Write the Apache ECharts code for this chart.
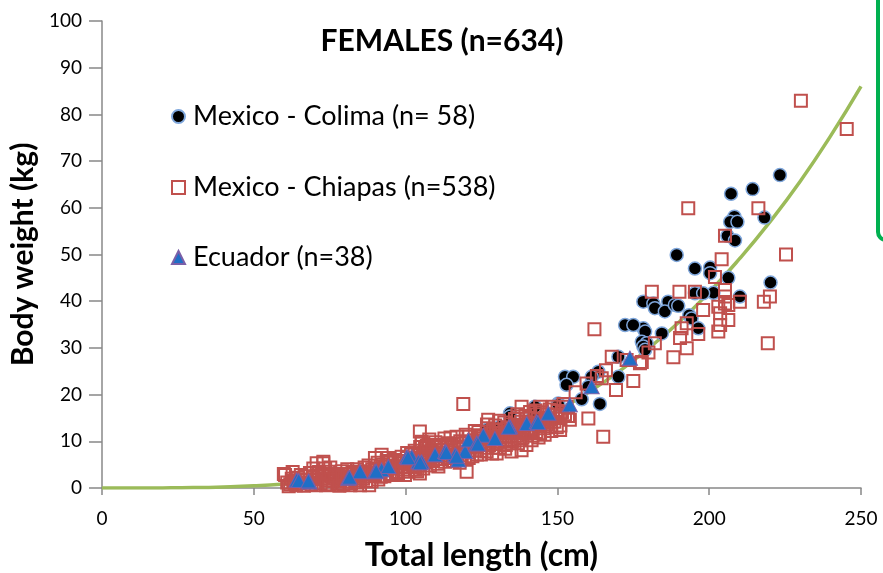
<!DOCTYPE html>
<html>
<head>
<meta charset="utf-8">
<script src="https://cdn.jsdelivr.net/npm/echarts@6/dist/echarts.min.js"></script>
<style>
  html, body { margin: 0; padding: 0; background: #fff; }
  #chart { width: 883px; height: 573px; }
</style>
</head>
<body>
<div id="chart"></div>
<script>
// Total length (cm) vs body weight (kg), females by locality
const colima = [
  [223.3,67.0],[214.3,64.0],[207.2,63.0],[208.3,58.1],[206.9,57.0],[209.3,57.0],[218.2,57.9],
  [206.0,54.0],[208.5,53.0],[189.3,49.9],[195.3,47.0],[200.3,47.2],[200.3,46.0],[206.3,45.0],
  [220.2,44.0],[210.1,41.0],[201.4,41.8],[195.3,41.7],[198.0,41.7],[178.3,39.9],[181.6,39.5],
  [186.5,39.9],[182.1,38.5],[185.4,37.8],[188.7,39.2],[189.8,39.0],[193.4,37.0],[194.2,36.3],
  [196.4,34.2],[178.3,34.2],[178.9,33.5],[177.8,31.3],[179.4,31.0],[184.4,33.1],[172.3,34.9],
  [175.0,34.9],[178.3,30.3],[178.9,29.6],[170.1,28.1],[152.5,23.8],[155.2,23.8],[153.0,22.1],
  [163.5,24.9],[161.3,23.8],[160.2,21.7],[170.1,23.8],[158.0,19.0],[164.0,18.0],[150.3,18.1],
  [142.6,17.1],[142.1,15.6],[134.4,16.0],[127.8,12.4],[131.1,13.1],[142.6,17.4],[134.4,15.3],
  [150.3,17.8],[126.7,12.4]
];

const chiapas = [
  [230.2,82.9],[245.3,76.9],[193.1,59.9],[216.2,59.9],[205.2,54.0],[204.1,49.0],[225.3,50.0],
  [201.9,45.2],[181.1,42.0],[190.2,42.0],[195.3,42.0],[205.2,42.4],[205.2,41.0],[205.2,39.5],
  [210.1,39.9],[218.0,39.9],[220.0,41.0],[198.0,38.1],[203.0,38.8],[206.3,39.2],[203.6,37.4],
  [206.3,36.0],[203.6,34.9],[203.0,33.5],[192.6,35.3],[190.9,34.2],[196.4,33.0],[190.4,32.1],
  [192.6,29.9],[188.2,28.0],[182.1,31.0],[180.0,29.0],[177.8,27.0],[219.3,31.0],[162.2,34.0],
  [119.0,18.0],[160.2,14.9],[165.1,11.0],[175.0,22.9],[169.3,21.0],[172.8,27.4],[177.2,26.7],
  [167.9,28.1],[164.6,23.5],[159.6,22.4],[153.0,17.4],[154.1,14.6],[150.9,15.3],[138.2,17.4],
  [144.3,17.4],[147.0,14.6],[150.9,12.4],[136.0,13.1],[139.9,12.1],[144.3,11.7],[127.2,14.6],
  [130.0,12.4],[124.5,11.3],[131.1,11.0],[104.7,12.1],[105.3,9.6],[107.5,9.2],[113.5,8.8],
  [138.2,8.1],[134.9,7.8],[120.1,3.5],[105.3,9.9],[106.4,8.5],[108.6,8.1],[100.4,6.4],
  [103.1,3.9],[104.7,3.1],[114.1,9.6],[115.2,9.2],[117.4,8.8],[123.4,8.1],[126.7,7.8],
  [130.0,7.4],[131.1,9.9],[133.3,10.3],[137.1,15.3],[137.1,13.5],[141.0,16.3],
  [60.3,2.8],[59.9,3.0],[61.0,1.2],[62.0,0.8],[62.5,2.0],[63.0,1.5],[64.0,0.6],[64.5,2.2],
  [65.0,1.0],[66.0,1.8],[66.5,0.5],[67.0,2.5],[68.0,1.2],[68.5,3.2],[69.0,0.8],[69.6,4.2],
  [70.0,1.8],[70.7,5.3],[71.0,2.4],[72.0,1.0],[72.9,5.6],[72.9,5.3],[73.5,4.2],[73.0,2.8],
  [74.0,1.6],[74.5,3.5],[75.0,0.8],[75.5,2.4],[76.0,1.4],[76.5,3.0],[77.0,2.0],[77.5,1.0],
  [78.0,2.8],[78.5,1.6],[79.0,3.6],[79.5,0.8],[80.0,2.2],[80.5,1.4],[81.0,3.0],[81.5,2.0],
  [82.0,1.0],[82.5,3.5],[83.0,2.4],[83.5,1.6],[84.0,4.0],[84.5,2.8],[85.0,0.6],[85.5,3.4],
  [86.0,2.0],[86.5,4.4],[87.0,1.5],[87.5,3.0],[88.0,0.6],[88.5,2.5],[89.0,4.0],[89.9,6.4],
  [90.5,4.2],[90.0,2.8],[91.0,1.8],[91.5,3.5],[92.1,7.1],[92.5,5.0],[93.2,4.6],[93.0,2.5],
  [94.3,6.4],[94.0,3.8],[95.0,5.4],[95.5,2.8],[96.0,4.2],[96.5,6.0],[97.0,4.6],[97.5,3.2],
  [98.2,5.3],[98.7,6.7],[99.2,3.9],[99.5,5.6],[100.0,4.5],[100.5,7.5],[101.0,3.5],[101.5,5.5],
  [102.0,6.5],[102.5,4.5],[103.0,8.0],[103.5,5.8],[104.0,7.0],[104.5,4.8],[105.0,6.2],[106.0,7.5],
  [106.5,5.5],[107.0,9.0],[107.5,6.5],[108.0,4.8],[108.5,7.8],[109.0,5.8],[109.5,8.8],[110.0,6.8],
  [110.5,5.2],[111.0,7.5],[111.5,9.2],[112.0,6.2],[112.5,8.2],[113.0,5.6],[113.5,7.0],[114.0,9.0],
  [114.5,6.4],[115.0,8.0],[115.5,5.8],[116.0,9.5],[116.5,7.2],[117.0,6.0],[117.5,8.4],[118.0,10.0],
  [118.5,7.0],[119.0,8.8],[119.5,6.2],[120.0,9.8],[120.5,7.6],[121.0,11.0],[121.5,8.6],[122.0,6.8],
  [122.5,10.2],[123.0,9.0],[123.5,7.2],[124.0,12.0],[124.5,9.6],[125.0,8.0],[125.5,11.0],[126.0,10.0],
  [126.5,8.6],[127.0,12.8],[127.5,9.2],[128.0,11.6],[128.5,7.4],[129.0,10.6],[129.5,13.4],[130.0,9.4],
  [130.5,11.8],[131.0,8.6],[131.5,12.6],[132.0,10.4],[132.5,14.0],[133.0,9.2],[133.5,12.0],[134.0,11.0],
  [134.5,13.6],[135.0,10.0],[135.5,12.4],[136.0,14.8],[136.5,11.2],[137.0,9.6],[137.5,12.8],[138.0,14.2],
  [138.5,10.8],[139.0,13.0],[139.5,15.4],[140.0,11.6],[140.5,14.0],[141.0,12.4],[141.5,10.2],[142.0,13.6],
  [142.5,15.8],[143.0,12.0],[143.5,14.6],[144.0,13.2],[145.0,16.2],[145.5,12.8],[146.0,15.0],[146.5,13.6],
  [147.5,16.8],[148.0,12.2],[148.5,15.6],[149.0,14.2],[150.0,16.5],[151.0,13.4],[152.0,18.0],[152.5,15.8],
  [156.0,20.5],[163.0,24.0],[166.0,25.2],
  [61.5,0.4],[62.8,3.4],[63.5,0.9],[65.5,2.8],[67.5,1.6],[69.5,2.2],[70.5,0.6],[71.5,3.4],
  [72.5,2.0],[73.8,0.6],[75.2,4.4],[76.8,2.6],[78.2,0.5],[79.2,2.4],[80.8,4.0],[81.8,0.6],
  [83.2,3.2],[84.2,1.2],[85.8,2.4],[86.8,3.6],[87.8,4.8],[88.8,1.4],[89.5,3.2],[90.8,5.4],
  [91.8,2.4],[92.8,4.0],[93.8,5.8],[94.8,3.0],[95.8,4.8],[96.8,3.4],[97.8,5.8],[98.8,4.4],
  [99.8,2.8],[100.8,5.0],[101.8,7.2],[102.8,5.2],[103.8,3.6],[104.8,8.8],[105.8,4.2],[106.8,6.8],
  [107.8,10.4],[108.8,6.2],[109.8,9.8],[110.8,4.6],[111.8,8.2],[112.8,10.6],[113.8,6.6],[114.8,10.8],
  [115.8,7.6],[116.8,11.0],[117.8,5.4],[118.8,9.6],[119.8,11.4],[120.8,6.4],[121.8,9.4],[122.8,12.2],
  [123.8,10.6],[124.8,7.2],[125.8,9.4],[126.8,13.6],[127.8,10.4],[128.8,12.4],[129.8,8.6],[130.8,14.4],
  [131.8,11.2],[132.8,8.4],[133.8,13.0],[134.8,9.6],[135.8,11.8],[136.8,15.8],[137.8,10.2],[138.8,12.0],
  [139.8,9.2],[140.8,15.0],[141.8,11.2],[142.8,16.6],[143.8,10.8],[144.8,14.0],[145.8,11.4],[146.8,15.8],
  [147.8,13.2],[148.8,17.4],[149.8,13.0],[151.5,16.2],[153.5,15.4]
];

const ecuador = [
  [64.1,1.7],[68.3,1.3],[81.1,2.1],[85.0,3.5],[89.9,3.5],[92.1,3.9],[94.3,4.6],[100.4,6.7],
  [102.0,6.7],[104.2,5.6],[105.3,5.6],[109.7,7.1],[113.0,7.8],[116.3,7.1],[117.4,6.0],[119.6,7.8],
  [120.7,10.3],[123.4,9.6],[125.6,11.3],[129.4,10.6],[134.4,13.1],[139.9,13.8],[143.2,14.2],[147.0,16.0],
  [154.1,17.8],[161.3,21.7],[173.9,27.8],[64.8,1.6],[68.0,1.5],[81.5,2.3],[90.3,3.6],[100.8,6.5],
  [104.8,5.4],[113.4,7.6],[116.8,6.8],[123.8,9.4],[134.0,13.0],[143.6,14.0]
];

// Power-law trend line, read every 10 cm
const fitLength = [0,10,20,30,40,50,60,70,80,90,100,110,120,130,140,150,160,170,180,190,200,210,220,230,240,250];
const fitWeight = [0,0.003,0.025,0.09,0.24,0.48,0.87,1.43,2.2,3.2,4.5,6.1,8.1,10.5,13.3,16.6,20.4,24.8,29.9,35.5,41.9,49.1,57.0,65.7,75.4,86.0];

const seriesNames = ['Mexico - Colima (n= 58)', 'Mexico - Chiapas (n=538)', 'Ecuador (n=38)'];
const chartTitle = 'FEMALES (n=634)';
const xTitle = 'Total length (cm)';
const yTitle = 'Body weight (kg)';

const FONT = 'Lato, "Open Sans", sans-serif';
const chart = echarts.init(document.getElementById('chart'), null, { renderer: 'canvas' });

const legendText = { fontFamily: FONT, fontSize: 27, color: '#000', padding: [0, 0, 0, 3] };
function legendAt(name, top) {
  return {
    data: [name], left: 171, top: top, orient: 'vertical',
    itemWidth: 13, itemHeight: 13, itemGap: 0, padding: 0,
    textStyle: legendText, selectedMode: false
  };
}

chart.setOption({
  animation: false,
  backgroundColor: '#fff',
  title: {
    text: chartTitle, left: 437, top: 21, textAlign: 'center',
    textStyle: { fontFamily: FONT, fontSize: 30, fontWeight: 'bold', color: '#000' }
  },
  legend: [
    legendAt(seriesNames[0], 103),
    legendAt(seriesNames[1], 174),
    legendAt(seriesNames[2], 244)
  ],
  grid: { left: 102, right: 22, top: 21, bottom: 85, containLabel: false, outerBoundsMode: 'none' },
  xAxis: {
    type: 'value', min: 0, max: 250, interval: 50,
    name: xTitle, nameLocation: 'middle', nameGap: 52,
    nameTextStyle: { fontFamily: FONT, fontSize: 32, fontWeight: 'bold', color: '#000' },
    axisLine: { lineStyle: { color: '#888', width: 1.5 } },
    axisTick: { show: true, length: 7, lineStyle: { color: '#888', width: 1.5 } },
    axisLabel: { fontFamily: FONT, fontSize: 19, color: '#000', margin: 21 },
    splitLine: { show: false }
  },
  yAxis: {
    type: 'value', min: 0, max: 100, interval: 10,
    name: yTitle, nameLocation: 'middle', nameGap: 61,
    nameTextStyle: { fontFamily: FONT, fontSize: 30, fontWeight: 'bold', color: '#000' },
    axisLine: { show: true, lineStyle: { color: '#888', width: 1.5 } },
    axisTick: { show: true, length: 13, lineStyle: { color: '#888', width: 1.5 } },
    axisLabel: { fontFamily: FONT, fontSize: 19, color: '#000', margin: 20 },
    splitLine: { show: false }
  },
  series: [
    {
      name: 'trend', type: 'line', smooth: true, symbol: 'none', z: 1,
      data: fitLength.map((l, i) => [l, fitWeight[i]]),
      lineStyle: { color: '#9BBB59', width: 3.5 }
    },
    {
      name: seriesNames[0], type: 'scatter', symbol: 'circle', symbolSize: 13, z: 2,
      data: colima,
      itemStyle: { color: '#000', borderColor: '#7FA7DC', borderWidth: 1.5, opacity: 1 }
    },
    {
      name: seriesNames[1], type: 'scatter', symbol: 'rect', symbolSize: 12, z: 3,
      data: chiapas,
      itemStyle: { color: 'rgba(255,255,255,0)', borderColor: '#C0504D', borderWidth: 2, opacity: 1 }
    },
    {
      name: seriesNames[2], type: 'scatter', symbol: 'triangle', symbolSize: [15, 14], z: 4,
      data: ecuador,
      itemStyle: { color: '#1F6FC6', borderColor: '#7A5FA8', borderWidth: 1, opacity: 1 }
    }
  ],
  graphic: [
    {
      type: 'rect', z: 10,
      shape: { x: 878, y: -20, width: 40, height: 260, r: 8 },
      style: { fill: '#fff', stroke: '#00B050', lineWidth: 4 }
    }
  ]
});
</script>
</body>
</html>
